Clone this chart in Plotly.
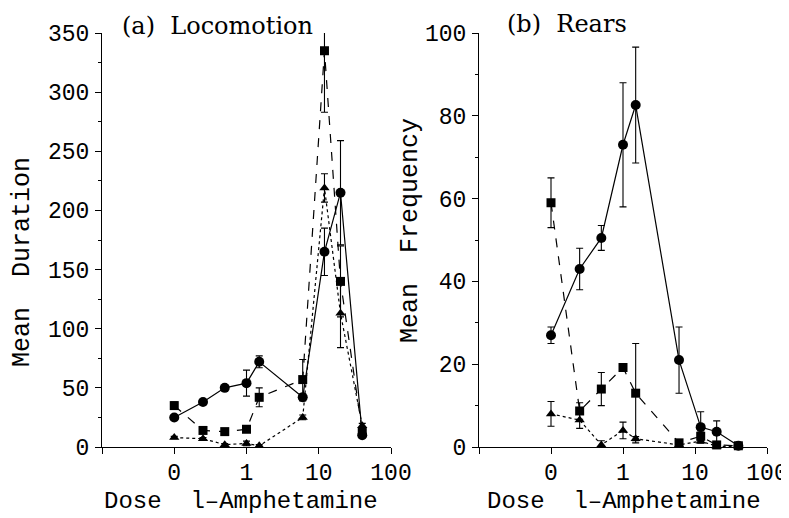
import plotly.graph_objects as go

# Dose positions on the log axis ("0" dose is drawn at 0.1)
dose_pos = [0.1, 0.25, 0.5, 1, 1.5, 6, 12, 20, 40]
x_tickvals = [0.01, 0.1, 1, 10, 100]
x_ticktext = ["", "0", "1", "10", "100"]

# (a) Locomotion - Mean Duration
loc_circle = [25, 38, 50, 54, 72, 42, 165, 215, 10]
loc_circle_err = [2, 2, 2, 11, 5, 3, 20, 44, 2]
loc_square = [35, 14, 13, 15, 42, 57, 335, 140, 13]
loc_square_err_plus = [3, 2, 2, 2, 8, 17, 16, 30, 2]
loc_square_err_minus = [3, 2, 2, 2, 8, 17, 52, 30, 2]
loc_tri = [8, 7, 2, 3, 1, 25, 219, 113, 18]
loc_tri_err = [1, 1, 1, 2, 1, 2, 12, 29, 2]

# (b) Rears - Mean Frequency
rear_circle = [27, 43, 50.5, 73, 82.6, 21, 4.8, 3.7, 0.3]
rear_circle_err = [2, 5, 3, 15, 14, 8, 3.7, 2.6, 0]
rear_square = [59, 8.7, 14, 19.2, 13, 1, 2.6, 0.5, 0.3]
rear_square_err = [6, 2, 4, 0.5, 12, 0.7, 1, 0.3, 0]
rear_tri = [8, 6.5, 0.5, 4, 2, 0.5, 1.4, 0.2, 0.1]
rear_tri_err = [3, 2, 1, 2, 0.5, 0.3, 0.5, 0.2, 0]

BLACK = "black"
MONO = "Liberation Mono"
SERIF = "DejaVu Serif"


def series(y, err, symbol, dash, xa, ya, err_minus=None, size=10):
    ey = dict(type="data", array=err, color=BLACK, thickness=1.1, width=3.5, visible=True)
    if err_minus is not None:
        ey["symmetric"] = False
        ey["arrayminus"] = err_minus
    return go.Scatter(
        x=dose_pos, y=y, mode="lines+markers",
        line=dict(color=BLACK, width=1.2, dash=dash),
        marker=dict(symbol=symbol, size=size, color=BLACK),
        error_y=ey, xaxis=xa, yaxis=ya, cliponaxis=False, showlegend=False,
    )


fig = go.Figure()
fig.add_trace(series(loc_tri, loc_tri_err, "triangle-up", "dot", "x", "y", size=9))
fig.add_trace(series(loc_square, loc_square_err_plus, "square", "dash", "x", "y",
                     err_minus=loc_square_err_minus, size=9))
fig.add_trace(series(loc_circle, loc_circle_err, "circle", "solid", "x", "y"))
fig.add_trace(series(rear_tri, rear_tri_err, "triangle-up", "dot", "x2", "y2", size=9))
fig.add_trace(series(rear_square, rear_square_err, "square", "dash", "x2", "y2", size=9))
fig.add_trace(series(rear_circle, rear_circle_err, "circle", "solid", "x2", "y2"))

# The page body adds an 8px margin, so the figure is 8px smaller and all
# reference pixel positions are shifted by 8px.
OFF = 8
W, H = 789 - OFF, 518 - OFF


def px(x):
    return (x - OFF) / W


def py(y):
    return 1 - (y - OFF) / H


xdom1 = [px(102), px(391)]
xdom2 = [px(479), px(767)]
ydom = [py(447), py(33)]

tickfont = dict(family=MONO, size=23, color=BLACK)

xcommon = dict(type="log", range=[-2, 2], tickvals=x_tickvals, ticktext=x_ticktext,
               ticks="outside", ticklen=6, tickwidth=1, tickcolor=BLACK,
               showline=True, linecolor=BLACK, linewidth=1, showgrid=False,
               zeroline=False, tickfont=tickfont, ticklabelstandoff=-2, automargin=False)
ycommon = dict(ticks="outside", ticklen=6, tickwidth=1, tickcolor=BLACK,
               showline=True, linecolor=BLACK, linewidth=1, showgrid=False,
               zeroline=False, tickfont=tickfont, ticklabelstandoff=1, automargin=False)

fig.update_layout(
    template="none",
    width=W, height=H,
    margin=dict(l=0, r=0, t=0, b=0, pad=0),
    paper_bgcolor="white", plot_bgcolor="white",
    xaxis=dict(domain=xdom1, anchor="y", **xcommon),
    xaxis2=dict(domain=xdom2, anchor="y2", **xcommon),
    yaxis=dict(domain=ydom, anchor="x", range=[0, 350], tickvals=list(range(0, 351, 50)),
               minor=dict(ticks="outside", ticklen=3, dtick=25, tickcolor=BLACK),
               **ycommon),
    yaxis2=dict(domain=ydom, anchor="x2", range=[0, 100], tickvals=list(range(0, 101, 20)),
                minor=dict(ticks="outside", ticklen=3, dtick=10, tickcolor=BLACK),
                **ycommon),
    annotations=[
        dict(text="(a)\u00a0\u00a0Locomotion", x=px(120), y=py(26), xref="paper", yref="paper",
             xanchor="left", yanchor="middle", showarrow=False,
             font=dict(family=SERIF, size=24, color=BLACK)),
        dict(text="(b)\u00a0\u00a0Rears", x=px(505), y=py(24), xref="paper", yref="paper",
             xanchor="left", yanchor="middle", showarrow=False,
             font=dict(family=SERIF, size=24, color=BLACK)),
        dict(text="Mean\u00a0\u00a0Duration", x=px(22), y=py(262), xref="paper", yref="paper",
             xanchor="center", yanchor="middle", textangle=-90, showarrow=False,
             font=dict(family=MONO, size=25, color=BLACK)),
        dict(text="Mean\u00a0\u00a0Frequency", x=px(410), y=py(231), xref="paper", yref="paper",
             xanchor="center", yanchor="middle", textangle=-90, showarrow=False,
             font=dict(family=MONO, size=25, color=BLACK)),
        dict(text="Dose\u00a0\u00a0l\u2013Amphetamine", x=px(241), y=py(501), xref="paper", yref="paper",
             xanchor="center", yanchor="middle", showarrow=False,
             font=dict(family=MONO, size=24, color=BLACK)),
        dict(text="Dose\u00a0\u00a0l\u2013Amphetamine", x=px(624), y=py(501), xref="paper", yref="paper",
             xanchor="center", yanchor="middle", showarrow=False,
             font=dict(family=MONO, size=24, color=BLACK)),
    ],
)

fig.write_html("out.html")
